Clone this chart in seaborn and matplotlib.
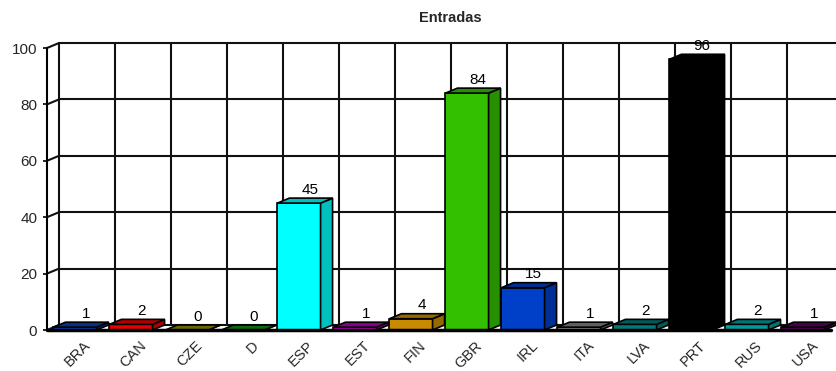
import matplotlib
matplotlib.use("Agg")
import matplotlib.pyplot as plt
import matplotlib.colors as mcolors
from matplotlib.patches import Polygon
from matplotlib.transforms import ScaledTranslation
import seaborn as sns
import pandas as pd

# Entries per country
countries = ["BRA", "CAN", "CZE", "D", "ESP", "EST", "FIN", "GBR", "IRL", "ITA", "LVA", "PRT", "RUS", "USA"]
entradas = [1, 2, 0, 0, 45, 1, 4, 84, 15, 1, 2, 96, 2, 1]
bar_colors = ["#0a3fb0", "#e60000", "#8a8a00", "#108a10", "#00ffff", "#b000b0", "#c88a00",
              "#33c000", "#0040c8", "#808080", "#007878", "#000000", "#009a9a", "#600060"]
y_ticks = [0, 20, 40, 60, 80, 100]
title = "Entradas"

sns.set_theme(style="white")
plt.rcParams["font.family"] = ["Liberation Sans", "DejaVu Sans"]

W, H = 837, 371
fig = plt.figure(figsize=(W / 100, H / 100), dpi=100)
# front plane of the chart, in pixels: x 47..831, y(0)=330, y(100)=48
ax = fig.add_axes([47 / W, (H - 330) / H, 784 / W, 282 / H])

df = pd.DataFrame({"pais": countries, "n": entradas})
sns.barplot(data=df, x="pais", y="n", hue="pais", palette=bar_colors, legend=False,
            width=0.77, edgecolor="black", linewidth=1.2, saturation=1, ax=ax, zorder=4)

ax.set_xlim(-0.5, len(countries) - 0.5)
ax.set_ylim(0, 100)

# depth of the pseudo-3D box in data units
dx = 12 / 56
dy = 5 / 2.82
x_lo, x_hi = -0.5, len(countries) - 0.5

grid_kw = dict(color="#111111", lw=1.5, clip_on=False, zorder=1)
# back wall: horizontal and vertical grid
for v in y_ticks:
    ax.plot([x_lo + dx, x_hi + dx], [v + dy, v + dy], **grid_kw)
    # left wall connectors
    ax.plot([x_lo, x_lo + dx], [v, v + dy], **grid_kw)
for k in range(len(countries) + 1):
    xk = k - 0.5 + dx
    ax.plot([xk, xk], [dy, 100 + dy], **grid_kw)

# depth faces of the bars (top and side), shaded darker
for patch, col in zip(ax.patches, bar_colors):
    x0 = patch.get_x()
    x1 = x0 + patch.get_width()
    h = patch.get_height()
    dark = tuple(c * 0.75 for c in mcolors.to_rgb(col))
    top = Polygon([(x0, h), (x0 + dx, h + dy), (x1 + dx, h + dy), (x1, h)],
                  closed=True, facecolor=dark, edgecolor="black", lw=1.2, zorder=4, clip_on=False)
    side = Polygon([(x1, 0), (x1 + dx, dy), (x1 + dx, h + dy), (x1, h)],
                   closed=True, facecolor=dark, edgecolor="black", lw=1.2, zorder=4, clip_on=False)
    ax.add_patch(side)
    ax.add_patch(top)

# value labels above each bar
for i, (patch, v) in enumerate(zip(ax.patches, entradas)):
    cx = patch.get_x() + patch.get_width() / 2 + dx * 0.9
    ax.annotate(f"{v}", (cx, v + dy), xytext=(0, 1), textcoords="offset points",
                ha="center", va="bottom", fontsize=11, color="black", zorder=6,
                annotation_clip=False)

# floor and front axis
ax.plot([x_lo, x_hi], [0, 0], color="black", lw=2.5, clip_on=False, zorder=5)
for s in ["top", "right", "bottom"]:
    ax.spines[s].set_visible(False)
ax.spines["left"].set_color("black")
ax.spines["left"].set_linewidth(1.5)
ax.spines["left"].set_zorder(5)

ax.set_yticks(y_ticks)
ax.set_yticklabels([str(v) for v in y_ticks], fontsize=11)
ax.tick_params(axis="y", left=True, length=3, width=1.2, color="black", pad=4)
ax.set_xticks(range(len(countries)))
ax.set_xticklabels(countries, rotation=45, ha="right", va="top",
                   rotation_mode="anchor", fontsize=10.5)
ax.tick_params(axis="x", bottom=False, pad=0)
shift = ScaledTranslation(8 / 100, 0, fig.dpi_scale_trans)
for lab in ax.get_xticklabels():
    lab.set_transform(lab.get_transform() + shift)
ax.set_xlabel("")
ax.set_ylabel("")
ax.grid(False)
ax.set_facecolor("white")

fig.text(450 / W, 1 - 18 / H, title, ha="center", va="center", fontsize=10.5, fontweight="bold")

fig.savefig("out.png", dpi=100)
